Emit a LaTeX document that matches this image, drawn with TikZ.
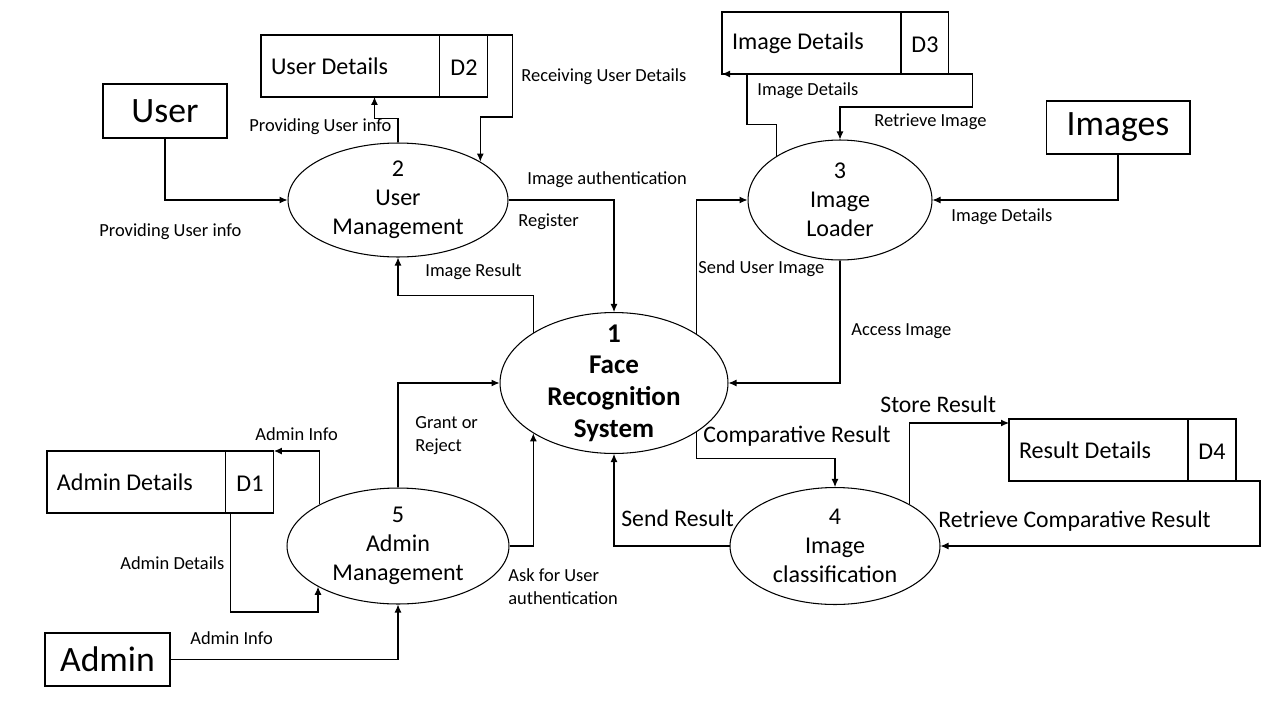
\documentclass[tikz,border=0pt]{standalone}
\usepackage{fontspec}
\setmainfont{Carlito}
\usetikzlibrary{arrows.meta, positioning, shapes.geometric}

\begin{document}
\begin{tikzpicture}[
  x=0.02cm, y=-0.02cm,
  entity/.style={rectangle, draw, line width=0.6pt, font=\fontsize{20.3}{24}\selectfont},
  proc/.style={ellipse, draw, line width=0.6pt, inner xsep=-8pt, inner ysep=-14pt,
    align=center, font=\fontsize{13.7}{16.5}\selectfont},
  store/.style={rectangle, draw, line width=0.6pt, outer sep=0pt, minimum height=1.24cm,
    text width=3.18cm, inner xsep=0.2cm, align=flush left, font=\fontsize{13.7}{16}\selectfont},
  storeid/.style={rectangle, draw, line width=0.6pt, outer sep=0pt, minimum width=0.96cm,
    minimum height=1.24cm, text height=10.6pt, text depth=0pt, font=\fontsize{13.7}{16}\selectfont},
  lbl/.style={anchor=west, inner sep=0pt, align=left, font=\fontsize{10.5}{13}\selectfont},
  biglbl/.style={anchor=west, inner sep=0pt, font=\fontsize{13.5}{16}\selectfont},
  arrow/.style={-{Latex[length=1.6mm, width=1.4mm]}, line width=0.6pt}
]
  \useasboundingbox (0,0) rectangle (1280,720);

  % external entities
  \node[entity, minimum width=2.48cm, minimum height=1.08cm] (user) at (165,111) {User};
  \node[entity, minimum width=2.88cm, minimum height=1.06cm] (images) at (1118,127.5) {Images};
  \node[entity, minimum width=2.5cm, minimum height=1.06cm] (admin) at (107.5,659.5) {Admin};

  % processes
  \node[proc, minimum width=4.56cm, minimum height=2.82cm,
    font=\fontsize{15.4}{18}\selectfont\bfseries] (p1) at (614,383) {1\\Face\\Recognition\\System};
  \node[proc, minimum width=4.4cm, minimum height=2.28cm] (p2) at (398,200) {2\\User\\Management};
  \node[proc, minimum width=3.68cm, minimum height=2.4cm] (p3) at (840,200) {3\\Image\\Loader};
  \node[proc, minimum width=4.2cm, minimum height=2.34cm] (p4) at (835,546) {4\\Image\\classification};
  \node[proc, minimum width=4.44cm, minimum height=2.32cm] (p5) at (398,546) {5\\Admin\\Management};

  % data stores
  \node[store, anchor=north west] (d1) at (47,451) {Admin Details};
  \node[storeid, right=0pt of d1] (d1n) {D1};
  \node[store, anchor=north west] (d2) at (261,35) {User Details};
  \node[storeid, right=0pt of d2] (d2n) {D2};
  \node[store, anchor=north west] (d3) at (722,12) {Image Details};
  \node[storeid, right=0pt of d3] (d3n) {D3};
  \node[store, anchor=north west] (d4) at (1009,419) {Result Details};
  \node[storeid, right=0pt of d4] (d4n) {D4};

  % flows
  \draw[arrow] (user.south) |- (p2.west);
  \draw[arrow] (p2.north) -- ++(0,-24) -| ([xshift=0.48cm]d2.south);
  \draw[arrow] (d2n.north east) -| ++(25,82) -| (p2.25.5);
  \draw[arrow] (p2.east) -| (p1.north);
  \draw[arrow] (p1.148.5) -- ++(0,-37) -| (p2.south);
  \draw[arrow] (p1.31.5) |- (p3.west);
  \draw[arrow] (p3.south) |- (p1.east);
  \draw[arrow] (images.south) |- (p3.east);
  \draw[arrow] (p3.145.25) -- ++(0,-31) -| ([xshift=0.5cm]d3.south west) -- (d3.south west);
  \draw[arrow] (d3n.south east) -- ++(24,0) -- ++(0,33) -| (p3.north);
  \draw[arrow] (admin.east) -| (p5.south);
  \draw[arrow] (p5.152.75) |- (d1n.north east);
  \draw[arrow] ([xshift=0.1cm]d1n.south west) -- ++(0,99) -| (p5.207.25);
  \draw[arrow] (p5.north) |- (p1.west);
  \draw[arrow] (p5.east) -| (p1.212.1);
  \draw[arrow] (p1.329.1) -- ++(0,26) -| (p4.north);
  \draw[arrow] (p4.west) -| (p1.south);
  \draw[arrow] (p4.29.3) |- ([yshift=-0.08cm]d4.north west);
  \draw[arrow] (d4n.south east) -- ++(24,0) |- (p4.east);

  % flow labels
  \node[lbl] (l1) at (99,232) {Providing User info};
  \node[lbl] (l2) at (249,127) {Providing User info};
  \node[lbl] (l3) at (521,77) {Receiving User Details};
  \node[lbl] (l4) at (527,180) {Image authentication};
  \node[lbl] (l5) at (518,222) {Register};
  \node[lbl] (l6) at (425,272) {Image Result};
  \node[lbl] (l7) at (698,269) {Send User Image};
  \node[lbl] (l8) at (851,331) {Access Image};
  \node[lbl] (l9) at (951,217) {Image Details};
  \node[lbl] (l10) at (757,91) {Image Details};
  \node[lbl] (l11) at (874,122) {Retrieve Image};
  \node[lbl] (l12) at (190,638) {Admin Info};
  \node[lbl] (l13) at (255,434) {Admin Info};
  \node[lbl] (l14) at (120,563) {Admin Details};
  \node[lbl] (l15) at (415,436) {Grant or\\Reject};
  \node[lbl] (l16) at (508,587) {Ask for User\\authentication};
  \node[biglbl] (l17) at (703,436) {Comparative Result};
  \node[biglbl] (l18) at (621,518) {Send Result};
  \node[biglbl] (l19) at (880,404) {Store Result};
  \node[biglbl] (l20) at (938,521) {Retrieve Comparative Result};
\end{tikzpicture}
\end{document}
